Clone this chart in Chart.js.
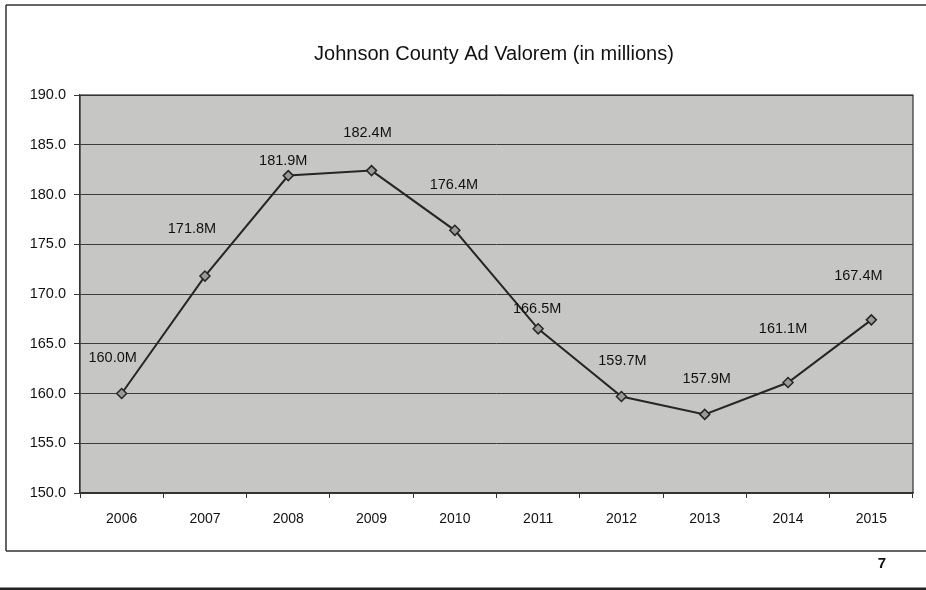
<!DOCTYPE html>
<html>
<head>
<meta charset="utf-8">
<script src="https://cdn.jsdelivr.net/npm/chart.js@4.4.1/dist/chart.umd.min.js"></script>
<style>
  html, body { margin: 0; padding: 0; background: #ffffff; }
  #wrap { width: 926px; height: 590px; position: relative; }
</style>
</head>
<body>
<div id="wrap"><canvas id="c" width="926" height="590"></canvas></div>
<script>
const years = ['2006','2007','2008','2009','2010','2011','2012','2013','2014','2015'];
const adValorem = [160.0, 171.8, 181.9, 182.4, 176.4, 166.5, 159.7, 157.9, 161.1, 167.4];
const yTicks = [150, 155, 160, 165, 170, 175, 180, 185, 190];
const chartTitle = 'Johnson County Ad Valorem (in millions)';
const pageNumber = '7';

// label placement offsets (px) relative to each point, as manually placed in the original
const labelOffsets = [[-9,-36],[-13,-47],[-5,-15],[-4,-38],[-1,-45],[-1,-20],[1,-35],[2,-35],[-5,-54],[-13,-44]];

const FONT = '"Liberation Sans", Arial, sans-serif';

const framePlugin = {
  id: 'frame',
  beforeDraw(chart) {
    const ctx = chart.ctx;
    const a = chart.chartArea;
    ctx.save();
    ctx.fillStyle = '#ffffff';
    ctx.fillRect(0, 0, chart.width, chart.height);
    // plot background
    ctx.fillStyle = '#c6c7c5';
    ctx.fillRect(a.left, a.top, a.right - a.left, a.bottom - a.top);
    // outer frame
    ctx.strokeStyle = '#333333';
    ctx.lineWidth = 1.5;
    ctx.beginPath();
    ctx.moveTo(6, 5); ctx.lineTo(926, 5);
    ctx.moveTo(6, 5); ctx.lineTo(6, 551);
    ctx.moveTo(6, 551); ctx.lineTo(926, 551);
    ctx.stroke();
    ctx.lineWidth = 3;
    ctx.strokeStyle = '#222222';
    ctx.beginPath();
    ctx.moveTo(0, 589); ctx.lineTo(926, 589);
    ctx.stroke();
    ctx.restore();
  },
  afterDraw(chart) {
    const ctx = chart.ctx;
    const a = chart.chartArea;
    ctx.save();
    // title
    ctx.fillStyle = '#111111';
    ctx.font = '20px ' + FONT;
    ctx.textAlign = 'center';
    ctx.textBaseline = 'middle';
    ctx.fillText(chartTitle, 494, 54);
    // page number
    ctx.font = 'bold 15px ' + FONT;
    ctx.fillText(pageNumber, 882, 564);
    // plot border
    ctx.strokeStyle = '#333333';
    ctx.lineWidth = 1.2;
    ctx.strokeRect(a.left, a.top, a.right - a.left, a.bottom - a.top);
    ctx.restore();
  }
};

const labelPlugin = {
  id: 'pointLabels',
  afterDatasetsDraw(chart) {
    const ctx = chart.ctx;
    const meta = chart.getDatasetMeta(0);
    ctx.save();
    ctx.font = '14.5px ' + FONT;
    ctx.fillStyle = '#111111';
    ctx.textAlign = 'center';
    ctx.textBaseline = 'middle';
    meta.data.forEach((pt, i) => {
      const off = labelOffsets[i] || [0, -20];
      ctx.fillText(adValorem[i].toFixed(1) + 'M', pt.x + off[0], pt.y + off[1]);
    });
    ctx.restore();
  }
};

new Chart(document.getElementById('c'), {
  type: 'line',
  data: {
    labels: years,
    datasets: [{
      data: adValorem,
      borderColor: '#262626',
      borderWidth: 2,
      tension: 0,
      pointStyle: 'rectRot',
      pointRadius: 5,
      pointBorderWidth: 1.5,
      pointBorderColor: '#262626',
      pointBackgroundColor: '#9a9a9a',
      fill: false
    }]
  },
  options: {
    responsive: false,
    animation: false,
    devicePixelRatio: 1,
    layout: { padding: { top: 95, right: 13, bottom: 0, left: 0 } },
    plugins: {
      legend: { display: false },
      title: { display: false },
      tooltip: { enabled: false }
    },
    scales: {
      x: {
        offset: true,
        grid: { offset: true, drawOnChartArea: false, drawTicks: true, tickLength: 5, color: '#333333' },
        border: { color: '#333333', width: 1.2 },
        ticks: { color: '#111111', font: { family: FONT, size: 14 }, padding: 13, maxRotation: 0 },
        afterFit(s) { s.height = 97; }
      },
      y: {
        min: 150,
        max: 190,
        afterBuildTicks(s) { s.ticks = yTicks.map(v => ({ value: v })); },
        grid: { color: '#3c3c3c', lineWidth: 1, drawTicks: true, tickLength: 6 },
        border: { color: '#333333', width: 1.2 },
        ticks: {
          color: '#111111',
          font: { family: FONT, size: 14.5 },
          padding: 8,
          callback: v => Number(v).toFixed(1)
        },
        afterFit(s) { s.width = 80; }
      }
    }
  },
  plugins: [framePlugin, labelPlugin]
});
</script>
</body>
</html>
